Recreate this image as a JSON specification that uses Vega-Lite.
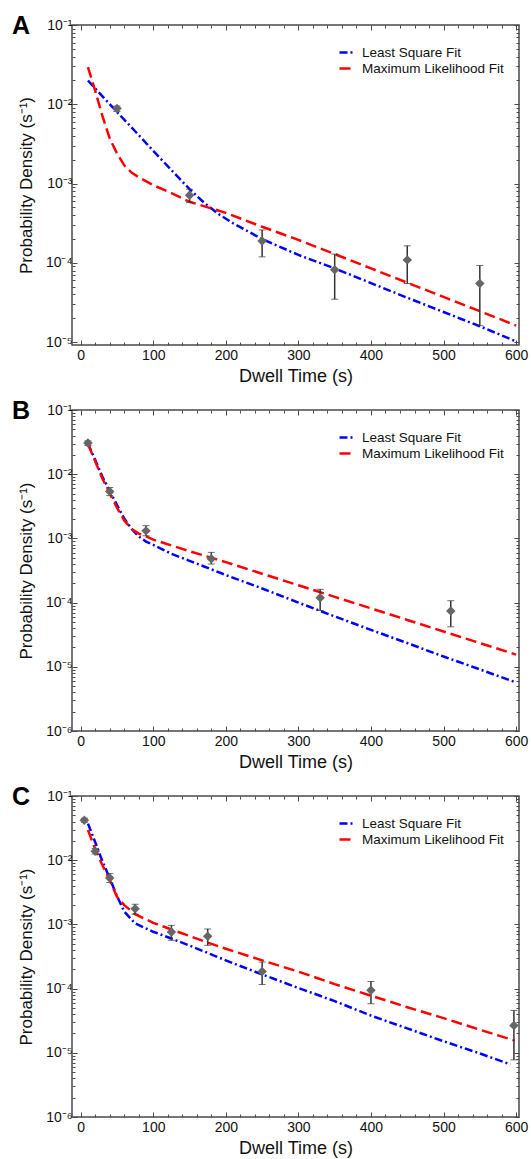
{
  "$schema": "https://vega.github.io/schema/vega-lite/v6.json",
  "background": "white",
  "padding": {"left": 11, "top": 13, "right": 0, "bottom": 0},
  "spacing": 12,
  "config": {
    "font": "Liberation Sans",
    "view": {"stroke": "#4a4a4a", "strokeWidth": 1.5},
    "axis": {"domain": false, "grid": false, "tickColor": "#4a4a4a", "tickWidth": 1, "labelFont": "Liberation Sans", "labelFontSize": 14, "labelColor": "#111", "titleFont": "Liberation Sans", "titleFontSize": 18, "titleFontWeight": "normal", "titleColor": "#111", "labelOverlap": false, "labelFlush": false},
    "axisLeft": {"titleFontSize": 17},
    "title": {"font": "Liberation Sans", "fontSize": 25, "fontWeight": "bold", "color": "#000", "anchor": "start", "frame": "group", "offset": -21, "dx": -60, "baseline": "alphabetic"},
    "legend": {"orient": "none", "legendX": 266, "legendY": 18, "padding": 0, "symbolType": "stroke", "symbolSize": 256, "symbolStrokeWidth": 2.5, "labelFont": "Liberation Sans", "labelFontSize": 13.5, "labelColor": "#111", "labelOffset": 5, "rowPadding": -1}
  },
  "datasets": {
    "fitA": [
      {"x": 10, "y": 0.01995, "fit": "Least Square Fit"},
      {"x": 30, "y": 0.01259, "fit": "Least Square Fit"},
      {"x": 50, "y": 0.0080, "fit": "Least Square Fit"},
      {"x": 75, "y": 0.004571, "fit": "Least Square Fit"},
      {"x": 100, "y": 0.002582, "fit": "Least Square Fit"},
      {"x": 125, "y": 0.001479, "fit": "Least Square Fit"},
      {"x": 150, "y": 0.000851, "fit": "Least Square Fit"},
      {"x": 170, "y": 0.000575, "fit": "Least Square Fit"},
      {"x": 190, "y": 0.000412, "fit": "Least Square Fit"},
      {"x": 210, "y": 0.000316, "fit": "Least Square Fit"},
      {"x": 250, "y": 0.0001995, "fit": "Least Square Fit"},
      {"x": 300, "y": 0.0001259, "fit": "Least Square Fit"},
      {"x": 350, "y": 0.0000851, "fit": "Least Square Fit"},
      {"x": 400, "y": 0.0000556, "fit": "Least Square Fit"},
      {"x": 450, "y": 0.0000363, "fit": "Least Square Fit"},
      {"x": 500, "y": 0.000024, "fit": "Least Square Fit"},
      {"x": 550, "y": 0.00001585, "fit": "Least Square Fit"},
      {"x": 600, "y": 0.0000102, "fit": "Least Square Fit"},
      {"x": 10, "y": 0.02951, "fit": "Maximum Likelihood Fit"},
      {"x": 20, "y": 0.01479, "fit": "Maximum Likelihood Fit"},
      {"x": 30, "y": 0.007079, "fit": "Maximum Likelihood Fit"},
      {"x": 40, "y": 0.003715, "fit": "Maximum Likelihood Fit"},
      {"x": 50, "y": 0.002399, "fit": "Maximum Likelihood Fit"},
      {"x": 60, "y": 0.001698, "fit": "Maximum Likelihood Fit"},
      {"x": 70, "y": 0.00138, "fit": "Maximum Likelihood Fit"},
      {"x": 80, "y": 0.001202, "fit": "Maximum Likelihood Fit"},
      {"x": 100, "y": 0.000955, "fit": "Maximum Likelihood Fit"},
      {"x": 125, "y": 0.000759, "fit": "Maximum Likelihood Fit"},
      {"x": 150, "y": 0.000589, "fit": "Maximum Likelihood Fit"},
      {"x": 200, "y": 0.000427, "fit": "Maximum Likelihood Fit"},
      {"x": 250, "y": 0.000285, "fit": "Maximum Likelihood Fit"},
      {"x": 300, "y": 0.000195, "fit": "Maximum Likelihood Fit"},
      {"x": 350, "y": 0.000129, "fit": "Maximum Likelihood Fit"},
      {"x": 400, "y": 0.0000851, "fit": "Maximum Likelihood Fit"},
      {"x": 450, "y": 0.0000562, "fit": "Maximum Likelihood Fit"},
      {"x": 500, "y": 0.00003715, "fit": "Maximum Likelihood Fit"},
      {"x": 550, "y": 0.00002455, "fit": "Maximum Likelihood Fit"},
      {"x": 600, "y": 0.00001622, "fit": "Maximum Likelihood Fit"}
    ],
    "ptsA": [
      {"x": 50, "y": 0.00882, "lo": 0.0081, "hi": 0.0095},
      {"x": 150, "y": 0.000713, "lo": 0.000575, "hi": 0.00085},
      {"x": 250, "y": 0.000189, "lo": 0.000119, "hi": 0.00026},
      {"x": 350, "y": 0.0000817, "lo": 0.0000348, "hi": 0.000129},
      {"x": 450, "y": 0.000109, "lo": 0.0000549, "hi": 0.000164},
      {"x": 550, "y": 0.0000549, "lo": 0.0000161, "hi": 0.0000925}
    ],
    "fitB": [
      {"x": 10, "y": 0.0302, "fit": "Least Square Fit"},
      {"x": 20, "y": 0.0166, "fit": "Least Square Fit"},
      {"x": 30, "y": 0.00912, "fit": "Least Square Fit"},
      {"x": 40, "y": 0.005495, "fit": "Least Square Fit"},
      {"x": 50, "y": 0.003311, "fit": "Least Square Fit"},
      {"x": 60, "y": 0.002042, "fit": "Least Square Fit"},
      {"x": 70, "y": 0.001413, "fit": "Least Square Fit"},
      {"x": 80, "y": 0.001072, "fit": "Least Square Fit"},
      {"x": 90, "y": 0.000891, "fit": "Least Square Fit"},
      {"x": 100, "y": 0.000794, "fit": "Least Square Fit"},
      {"x": 125, "y": 0.000575, "fit": "Least Square Fit"},
      {"x": 150, "y": 0.000447, "fit": "Least Square Fit"},
      {"x": 200, "y": 0.000269, "fit": "Least Square Fit"},
      {"x": 250, "y": 0.000166, "fit": "Least Square Fit"},
      {"x": 300, "y": 0.0001, "fit": "Least Square Fit"},
      {"x": 350, "y": 0.00006095, "fit": "Least Square Fit"},
      {"x": 400, "y": 0.00003758, "fit": "Least Square Fit"},
      {"x": 450, "y": 0.00002344, "fit": "Least Square Fit"},
      {"x": 500, "y": 0.00001445, "fit": "Least Square Fit"},
      {"x": 550, "y": 0.00000912, "fit": "Least Square Fit"},
      {"x": 600, "y": 0.00000569, "fit": "Least Square Fit"},
      {"x": 10, "y": 0.02951, "fit": "Maximum Likelihood Fit"},
      {"x": 20, "y": 0.01585, "fit": "Maximum Likelihood Fit"},
      {"x": 30, "y": 0.008511, "fit": "Maximum Likelihood Fit"},
      {"x": 40, "y": 0.005012, "fit": "Maximum Likelihood Fit"},
      {"x": 50, "y": 0.00302, "fit": "Maximum Likelihood Fit"},
      {"x": 60, "y": 0.001905, "fit": "Maximum Likelihood Fit"},
      {"x": 70, "y": 0.001413, "fit": "Maximum Likelihood Fit"},
      {"x": 80, "y": 0.001189, "fit": "Maximum Likelihood Fit"},
      {"x": 90, "y": 0.001072, "fit": "Maximum Likelihood Fit"},
      {"x": 100, "y": 0.000955, "fit": "Maximum Likelihood Fit"},
      {"x": 125, "y": 0.000776, "fit": "Maximum Likelihood Fit"},
      {"x": 150, "y": 0.000631, "fit": "Maximum Likelihood Fit"},
      {"x": 200, "y": 0.000427, "fit": "Maximum Likelihood Fit"},
      {"x": 250, "y": 0.000282, "fit": "Maximum Likelihood Fit"},
      {"x": 300, "y": 0.000186, "fit": "Maximum Likelihood Fit"},
      {"x": 350, "y": 0.000123, "fit": "Maximum Likelihood Fit"},
      {"x": 400, "y": 0.0000813, "fit": "Maximum Likelihood Fit"},
      {"x": 450, "y": 0.0000537, "fit": "Maximum Likelihood Fit"},
      {"x": 500, "y": 0.00003548, "fit": "Maximum Likelihood Fit"},
      {"x": 550, "y": 0.00002344, "fit": "Maximum Likelihood Fit"},
      {"x": 600, "y": 0.00001549, "fit": "Maximum Likelihood Fit"}
    ],
    "ptsB": [
      {"x": 10, "y": 0.0305, "lo": 0.028, "hi": 0.033},
      {"x": 40, "y": 0.00537, "lo": 0.00465, "hi": 0.0062},
      {"x": 90, "y": 0.00131, "lo": 0.0011, "hi": 0.00158},
      {"x": 180, "y": 0.000483, "lo": 0.000399, "hi": 0.000606},
      {"x": 330, "y": 0.000119, "lo": 0.0000755, "hi": 0.000161},
      {"x": 510, "y": 0.0000738, "lo": 0.000042, "hi": 0.000107}
    ],
    "fitC": [
      {"x": 10, "y": 0.03715, "fit": "Least Square Fit"},
      {"x": 20, "y": 0.01905, "fit": "Least Square Fit"},
      {"x": 30, "y": 0.00955, "fit": "Least Square Fit"},
      {"x": 40, "y": 0.005248, "fit": "Least Square Fit"},
      {"x": 50, "y": 0.002754, "fit": "Least Square Fit"},
      {"x": 60, "y": 0.001585, "fit": "Least Square Fit"},
      {"x": 75, "y": 0.001035, "fit": "Least Square Fit"},
      {"x": 100, "y": 0.000767, "fit": "Least Square Fit"},
      {"x": 125, "y": 0.000603, "fit": "Least Square Fit"},
      {"x": 150, "y": 0.000468, "fit": "Least Square Fit"},
      {"x": 175, "y": 0.000359, "fit": "Least Square Fit"},
      {"x": 200, "y": 0.000275, "fit": "Least Square Fit"},
      {"x": 250, "y": 0.000166, "fit": "Least Square Fit"},
      {"x": 300, "y": 0.0001023, "fit": "Least Square Fit"},
      {"x": 350, "y": 0.0000638, "fit": "Least Square Fit"},
      {"x": 400, "y": 0.000038, "fit": "Least Square Fit"},
      {"x": 450, "y": 0.000024, "fit": "Least Square Fit"},
      {"x": 500, "y": 0.00001514, "fit": "Least Square Fit"},
      {"x": 550, "y": 0.00000977, "fit": "Least Square Fit"},
      {"x": 592, "y": 0.00000661, "fit": "Least Square Fit"},
      {"x": 10, "y": 0.02951, "fit": "Maximum Likelihood Fit"},
      {"x": 20, "y": 0.01479, "fit": "Maximum Likelihood Fit"},
      {"x": 30, "y": 0.008318, "fit": "Maximum Likelihood Fit"},
      {"x": 40, "y": 0.004898, "fit": "Maximum Likelihood Fit"},
      {"x": 50, "y": 0.002692, "fit": "Maximum Likelihood Fit"},
      {"x": 60, "y": 0.001995, "fit": "Maximum Likelihood Fit"},
      {"x": 75, "y": 0.001445, "fit": "Maximum Likelihood Fit"},
      {"x": 100, "y": 0.001059, "fit": "Maximum Likelihood Fit"},
      {"x": 125, "y": 0.000832, "fit": "Maximum Likelihood Fit"},
      {"x": 150, "y": 0.000661, "fit": "Maximum Likelihood Fit"},
      {"x": 175, "y": 0.000519, "fit": "Maximum Likelihood Fit"},
      {"x": 200, "y": 0.000417, "fit": "Maximum Likelihood Fit"},
      {"x": 250, "y": 0.000275, "fit": "Maximum Likelihood Fit"},
      {"x": 300, "y": 0.000184, "fit": "Maximum Likelihood Fit"},
      {"x": 350, "y": 0.0001175, "fit": "Maximum Likelihood Fit"},
      {"x": 400, "y": 0.0000776, "fit": "Maximum Likelihood Fit"},
      {"x": 450, "y": 0.0000513, "fit": "Maximum Likelihood Fit"},
      {"x": 500, "y": 0.00003467, "fit": "Maximum Likelihood Fit"},
      {"x": 550, "y": 0.00002291, "fit": "Maximum Likelihood Fit"},
      {"x": 598, "y": 0.00001549, "fit": "Maximum Likelihood Fit"}
    ],
    "ptsC": [
      {"x": 5, "y": 0.042, "lo": 0.039, "hi": 0.045},
      {"x": 20, "y": 0.0138, "lo": 0.0125, "hi": 0.0152},
      {"x": 40, "y": 0.0053, "lo": 0.00449, "hi": 0.00619},
      {"x": 75, "y": 0.00176, "lo": 0.00144, "hi": 0.00206},
      {"x": 125, "y": 0.000762, "lo": 0.000565, "hi": 0.000968},
      {"x": 175, "y": 0.000652, "lo": 0.000472, "hi": 0.000849},
      {"x": 250, "y": 0.000185, "lo": 0.000116, "hi": 0.000259},
      {"x": 400, "y": 0.000094, "lo": 0.0000581, "hi": 0.000129},
      {"x": 597, "y": 0.0000267, "lo": 0.00000776, "hi": 0.0000457}
    ]
  },
  "resolve": {"scale": {"color": "independent", "strokeDash": "independent"}, "legend": {"color": "independent", "strokeDash": "independent"}},
  "vconcat": [
    {
      "width": 447, "height": 320,
      "title": {"text": "A"},
      "resolve": {"axis": {"x": "independent", "y": "independent"}},
      "layer": [
        {
          "data": {"name": "fitA"},
          "mark": {"type": "line", "strokeWidth": 2.5, "clip": true},
          "encoding": {
            "x": {"field": "x", "type": "quantitative", "scale": {"domain": [-12, 604], "nice": false, "zero": false}, "axis": {"orient": "bottom", "values": [0,20,40,60,80,100,120,140,160,180,200,220,240,260,280,300,320,340,360,380,400,420,440,460,480,500,520,540,560,580,600], "labelExpr": "datum.value % 100 === 0 ? datum.label : ''", "tickSize": {"condition": {"test": "datum.value % 100 === 0", "value": -5}, "value": -3}, "labelPadding": 8, "title": "Dwell Time (s)", "titlePadding": 3}},
            "y": {"field": "y", "type": "quantitative", "scale": {"type": "log", "domain": [0.0000092, 0.1], "nice": false}, "axis": {"orient": "left", "values": [0.00001,0.00002,0.00003,0.00004,0.00005,0.00006,0.00007,0.00008,0.00009,0.0001,0.0002,0.0003,0.0004,0.0005,0.0006,0.0007,0.0008,0.0009,0.001,0.002,0.003,0.004,0.005,0.006,0.007,0.008,0.009,0.01,0.02,0.03,0.04,0.05,0.06,0.07,0.08,0.09,0.1], "labelExpr": "abs(log(datum.value)/LN10 - round(log(datum.value)/LN10)) < 0.000001 ? '10⁻' + ['⁰','¹','²','³','⁴','⁵','⁶'][-round(log(datum.value)/LN10)] : ''", "tickSize": {"condition": {"test": "abs(log(datum.value)/LN10 - round(log(datum.value)/LN10)) < 0.000001", "value": -5}, "value": -3}, "labelPadding": 5, "title": "Probability Density (s⁻¹)", "titlePadding": 10}},
            "color": {"field": "fit", "type": "nominal", "scale": {"domain": ["Least Square Fit", "Maximum Likelihood Fit"], "range": ["#0000ff", "#ff0000"]}, "legend": {"title": null}},
            "strokeDash": {"field": "fit", "type": "nominal", "scale": {"domain": ["Least Square Fit", "Maximum Likelihood Fit"], "range": [[8, 3, 2, 3], [11, 5]]}, "legend": {"title": null}}
          }
        },
        {
          "data": {"name": "ptsA"},
          "mark": {"type": "errorbar", "ticks": {"size": 7, "color": "#333"}, "rule": {"strokeWidth": 1.5, "color": "#333"}},
          "encoding": {
            "x": {"field": "x", "type": "quantitative", "axis": null},
            "y": {"field": "lo", "type": "quantitative", "axis": null},
            "y2": {"field": "hi"}
          }
        },
        {
          "data": {"name": "ptsA"},
          "mark": {"type": "point", "shape": "diamond", "filled": true, "size": 90, "color": "#666666", "opacity": 1},
          "encoding": {
            "x": {"field": "x", "type": "quantitative", "axis": {"orient": "top", "labels": false, "title": null, "values": [0,20,40,60,80,100,120,140,160,180,200,220,240,260,280,300,320,340,360,380,400,420,440,460,480,500,520,540,560,580,600], "tickSize": {"condition": {"test": "datum.value % 100 === 0", "value": -5}, "value": -3}}},
            "y": {"field": "y", "type": "quantitative", "axis": {"orient": "right", "labels": false, "title": null, "values": [0.00001,0.00002,0.00003,0.00004,0.00005,0.00006,0.00007,0.00008,0.00009,0.0001,0.0002,0.0003,0.0004,0.0005,0.0006,0.0007,0.0008,0.0009,0.001,0.002,0.003,0.004,0.005,0.006,0.007,0.008,0.009,0.01,0.02,0.03,0.04,0.05,0.06,0.07,0.08,0.09,0.1], "tickSize": {"condition": {"test": "abs(log(datum.value)/LN10 - round(log(datum.value)/LN10)) < 0.000001", "value": -5}, "value": -3}}}
          }
        }
      ]
    },
    {
      "width": 447, "height": 321,
      "title": {"text": "B"},
      "resolve": {"axis": {"x": "independent", "y": "independent"}},
      "layer": [
        {
          "data": {"name": "fitB"},
          "mark": {"type": "line", "strokeWidth": 2.5, "clip": true},
          "encoding": {
            "x": {"field": "x", "type": "quantitative", "scale": {"domain": [-12, 604], "nice": false, "zero": false}, "axis": {"orient": "bottom", "values": [0,20,40,60,80,100,120,140,160,180,200,220,240,260,280,300,320,340,360,380,400,420,440,460,480,500,520,540,560,580,600], "labelExpr": "datum.value % 100 === 0 ? datum.label : ''", "tickSize": {"condition": {"test": "datum.value % 100 === 0", "value": -5}, "value": -3}, "labelPadding": 8, "title": "Dwell Time (s)", "titlePadding": 3}},
            "y": {"field": "y", "type": "quantitative", "scale": {"type": "log", "domain": [0.000001, 0.1], "nice": false}, "axis": {"orient": "left", "values": [0.000001,0.000002,0.000003,0.000004,0.000005,0.000006,0.000007,0.000008,0.000009,0.00001,0.00002,0.00003,0.00004,0.00005,0.00006,0.00007,0.00008,0.00009,0.0001,0.0002,0.0003,0.0004,0.0005,0.0006,0.0007,0.0008,0.0009,0.001,0.002,0.003,0.004,0.005,0.006,0.007,0.008,0.009,0.01,0.02,0.03,0.04,0.05,0.06,0.07,0.08,0.09,0.1], "labelExpr": "abs(log(datum.value)/LN10 - round(log(datum.value)/LN10)) < 0.000001 ? '10⁻' + ['⁰','¹','²','³','⁴','⁵','⁶'][-round(log(datum.value)/LN10)] : ''", "tickSize": {"condition": {"test": "abs(log(datum.value)/LN10 - round(log(datum.value)/LN10)) < 0.000001", "value": -5}, "value": -3}, "labelPadding": 5, "title": "Probability Density (s⁻¹)", "titlePadding": 10}},
            "color": {"field": "fit", "type": "nominal", "scale": {"domain": ["Least Square Fit", "Maximum Likelihood Fit"], "range": ["#0000ff", "#ff0000"]}, "legend": {"title": null}},
            "strokeDash": {"field": "fit", "type": "nominal", "scale": {"domain": ["Least Square Fit", "Maximum Likelihood Fit"], "range": [[8, 3, 2, 3], [11, 5]]}, "legend": {"title": null}}
          }
        },
        {
          "data": {"name": "ptsB"},
          "mark": {"type": "errorbar", "ticks": {"size": 7, "color": "#333"}, "rule": {"strokeWidth": 1.5, "color": "#333"}},
          "encoding": {
            "x": {"field": "x", "type": "quantitative", "axis": null},
            "y": {"field": "lo", "type": "quantitative", "axis": null},
            "y2": {"field": "hi"}
          }
        },
        {
          "data": {"name": "ptsB"},
          "mark": {"type": "point", "shape": "diamond", "filled": true, "size": 90, "color": "#666666", "opacity": 1},
          "encoding": {
            "x": {"field": "x", "type": "quantitative", "axis": {"orient": "top", "labels": false, "title": null, "values": [0,20,40,60,80,100,120,140,160,180,200,220,240,260,280,300,320,340,360,380,400,420,440,460,480,500,520,540,560,580,600], "tickSize": {"condition": {"test": "datum.value % 100 === 0", "value": -5}, "value": -3}}},
            "y": {"field": "y", "type": "quantitative", "axis": {"orient": "right", "labels": false, "title": null, "values": [0.000001,0.000002,0.000003,0.000004,0.000005,0.000006,0.000007,0.000008,0.000009,0.00001,0.00002,0.00003,0.00004,0.00005,0.00006,0.00007,0.00008,0.00009,0.0001,0.0002,0.0003,0.0004,0.0005,0.0006,0.0007,0.0008,0.0009,0.001,0.002,0.003,0.004,0.005,0.006,0.007,0.008,0.009,0.01,0.02,0.03,0.04,0.05,0.06,0.07,0.08,0.09,0.1], "tickSize": {"condition": {"test": "abs(log(datum.value)/LN10 - round(log(datum.value)/LN10)) < 0.000001", "value": -5}, "value": -3}}}
          }
        }
      ]
    },
    {
      "width": 447, "height": 321,
      "title": {"text": "C"},
      "resolve": {"axis": {"x": "independent", "y": "independent"}},
      "layer": [
        {
          "data": {"name": "fitC"},
          "mark": {"type": "line", "strokeWidth": 2.5, "clip": true},
          "encoding": {
            "x": {"field": "x", "type": "quantitative", "scale": {"domain": [-12, 604], "nice": false, "zero": false}, "axis": {"orient": "bottom", "values": [0,20,40,60,80,100,120,140,160,180,200,220,240,260,280,300,320,340,360,380,400,420,440,460,480,500,520,540,560,580,600], "labelExpr": "datum.value % 100 === 0 ? datum.label : ''", "tickSize": {"condition": {"test": "datum.value % 100 === 0", "value": -5}, "value": -3}, "labelPadding": 8, "title": "Dwell Time (s)", "titlePadding": 3}},
            "y": {"field": "y", "type": "quantitative", "scale": {"type": "log", "domain": [0.000001, 0.1], "nice": false}, "axis": {"orient": "left", "values": [0.000001,0.000002,0.000003,0.000004,0.000005,0.000006,0.000007,0.000008,0.000009,0.00001,0.00002,0.00003,0.00004,0.00005,0.00006,0.00007,0.00008,0.00009,0.0001,0.0002,0.0003,0.0004,0.0005,0.0006,0.0007,0.0008,0.0009,0.001,0.002,0.003,0.004,0.005,0.006,0.007,0.008,0.009,0.01,0.02,0.03,0.04,0.05,0.06,0.07,0.08,0.09,0.1], "labelExpr": "abs(log(datum.value)/LN10 - round(log(datum.value)/LN10)) < 0.000001 ? '10⁻' + ['⁰','¹','²','³','⁴','⁵','⁶'][-round(log(datum.value)/LN10)] : ''", "tickSize": {"condition": {"test": "abs(log(datum.value)/LN10 - round(log(datum.value)/LN10)) < 0.000001", "value": -5}, "value": -3}, "labelPadding": 5, "title": "Probability Density (s⁻¹)", "titlePadding": 10}},
            "color": {"field": "fit", "type": "nominal", "scale": {"domain": ["Least Square Fit", "Maximum Likelihood Fit"], "range": ["#0000ff", "#ff0000"]}, "legend": {"title": null}},
            "strokeDash": {"field": "fit", "type": "nominal", "scale": {"domain": ["Least Square Fit", "Maximum Likelihood Fit"], "range": [[8, 3, 2, 3], [11, 5]]}, "legend": {"title": null}}
          }
        },
        {
          "data": {"name": "ptsC"},
          "mark": {"type": "errorbar", "ticks": {"size": 7, "color": "#333"}, "rule": {"strokeWidth": 1.5, "color": "#333"}},
          "encoding": {
            "x": {"field": "x", "type": "quantitative", "axis": null},
            "y": {"field": "lo", "type": "quantitative", "axis": null},
            "y2": {"field": "hi"}
          }
        },
        {
          "data": {"name": "ptsC"},
          "mark": {"type": "point", "shape": "diamond", "filled": true, "size": 90, "color": "#666666", "opacity": 1},
          "encoding": {
            "x": {"field": "x", "type": "quantitative", "axis": {"orient": "top", "labels": false, "title": null, "values": [0,20,40,60,80,100,120,140,160,180,200,220,240,260,280,300,320,340,360,380,400,420,440,460,480,500,520,540,560,580,600], "tickSize": {"condition": {"test": "datum.value % 100 === 0", "value": -5}, "value": -3}}},
            "y": {"field": "y", "type": "quantitative", "axis": {"orient": "right", "labels": false, "title": null, "values": [0.000001,0.000002,0.000003,0.000004,0.000005,0.000006,0.000007,0.000008,0.000009,0.00001,0.00002,0.00003,0.00004,0.00005,0.00006,0.00007,0.00008,0.00009,0.0001,0.0002,0.0003,0.0004,0.0005,0.0006,0.0007,0.0008,0.0009,0.001,0.002,0.003,0.004,0.005,0.006,0.007,0.008,0.009,0.01,0.02,0.03,0.04,0.05,0.06,0.07,0.08,0.09,0.1], "tickSize": {"condition": {"test": "abs(log(datum.value)/LN10 - round(log(datum.value)/LN10)) < 0.000001", "value": -5}, "value": -3}}}
          }
        }
      ]
    }
  ]
}
